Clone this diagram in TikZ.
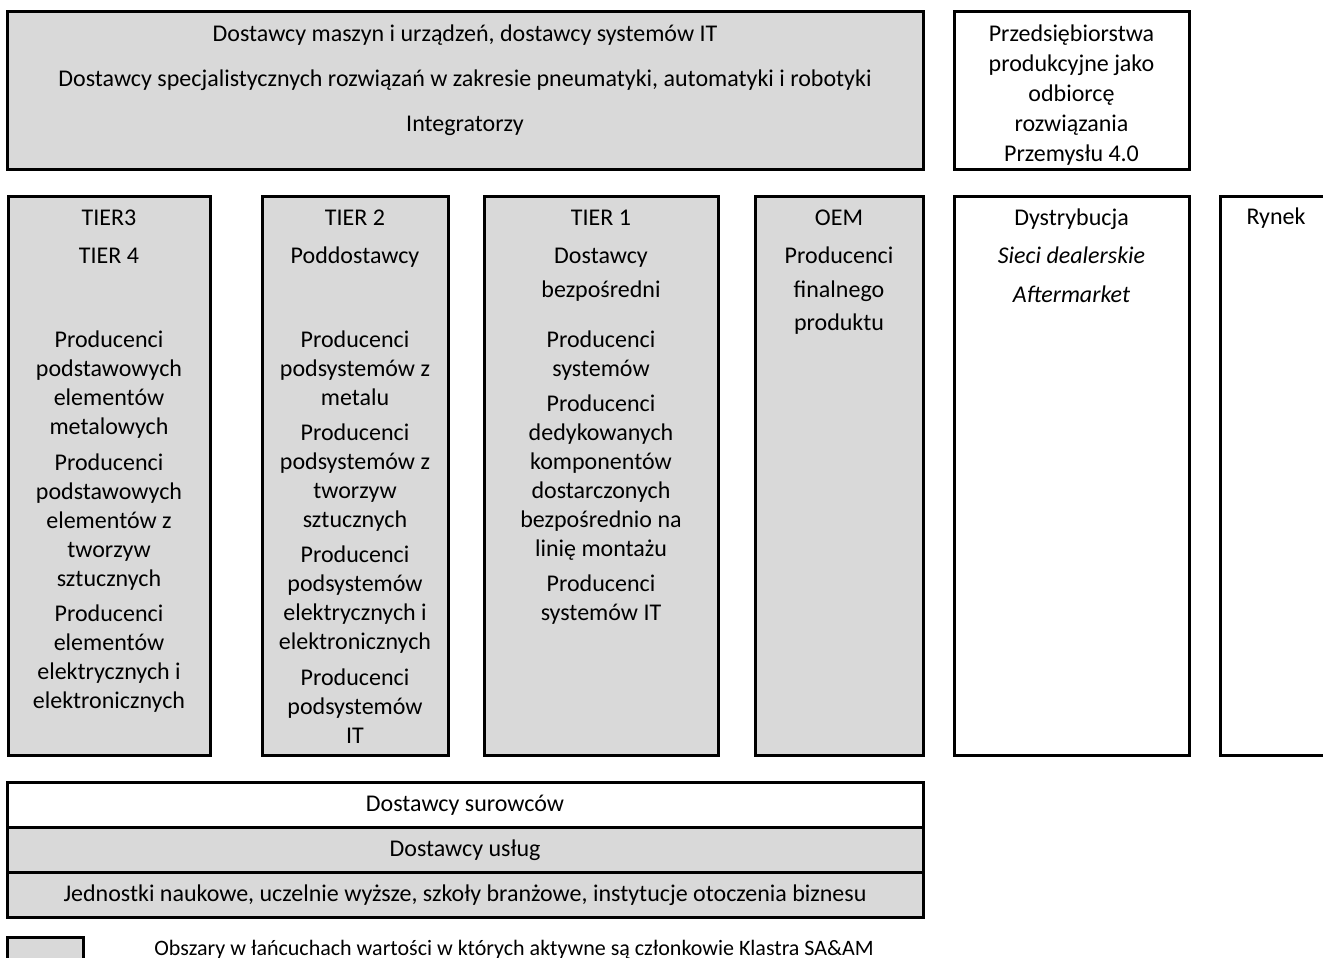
\documentclass[tikz,border=0pt]{standalone}
\usepackage{fontspec}
\setmainfont{Carlito}
\usetikzlibrary{fit}
\definecolor{obszar}{RGB}{217,217,217}

\begin{document}
\begin{tikzpicture}[x=0.5pt,y=-0.5pt,
  box/.style={draw,line width=1.5pt,fill=obszar,inner sep=0pt},
  pusty/.style={box,fill=white},
  opis/.style={align=center,inner sep=0pt,anchor=base,font=\fontsize{12pt}{14.5pt}\selectfont},
  blok/.style={opis,anchor=north}]
\useasboundingbox (0,0) rectangle (1323,958);
\clip (0,0) rectangle (1323,958);
\fill[white] (0,0) rectangle (1323,958);

% ramki
\node[box,fit={(7.5,11) (923,169)}] (gora) {};
\node[pusty,fit={(954,11) (1189,169)}] (odbiorca) {};
\node[box,fit={(8,196) (210,755)}] (tier34) {};
\node[box,fit={(262,196) (448,755)}] (tier2) {};
\node[box,fit={(484,196) (718,755)}] (tier1) {};
\node[box,fit={(755,196) (923,755)}] (oem) {};
\node[pusty,fit={(954,196) (1189,755)}] (dystr) {};
\node[pusty,fit={(1220,196) (1332,755)}] (rynek) {};
\node[pusty,fit={(7.5,782) (923,827)}] (surowce) {};
\node[box,fit={(7.5,827) (923,872)}] (uslugi) {};
\node[box,fit={(7.5,872) (923,917)}] (jednostki) {};
\node[box,fit={(7.5,937) (83,990)}] (legenda) {};

% teksty
\node[blok] (t-gora) at (465,24) {Dostawcy maszyn i urządzeń, dostawcy systemów IT\\[8pt]
  Dostawcy specjalistycznych rozwiązań w zakresie pneumatyki, automatyki i robotyki\\[8pt]
  Integratorzy};
\node[blok] (t-odbiorca) at (1071.5,24) {Przedsiębiorstwa\\[0.5pt] produkcyjne jako\\[0.5pt]
  odbiorcę\\[0.5pt] rozwiązania\\[0.5pt] Przemysłu 4.0};
\node[blok] (t-tier34) at (109,210) {TIER3\\[4.5pt] TIER 4\\[27.5pt]
  Producenci\\ podstawowych\\ elementów\\ metalowych\\[3.5pt]
  Producenci\\ podstawowych\\ elementów z\\ tworzyw\\ sztucznych\\[3pt]
  Producenci\\ elementów\\ elektrycznych i\\ elektronicznych};
\node[blok] (t-tier2) at (355,210) {TIER 2\\[4.5pt] Poddostawcy\\[27.5pt]
  Producenci\\ podsystemów z\\ metalu\\[3pt]
  Producenci\\ podsystemów z\\ tworzyw\\ sztucznych\\[3pt]
  Producenci\\ podsystemów\\ elektrycznych i\\ elektronicznych\\[3.5pt]
  Producenci\\ podsystemów\\ IT};
\node[blok] (t-tier1) at (601,210) {TIER 1\\[4.5pt] Dostawcy\\[2.5pt] bezpośredni\\[10.5pt]
  Producenci\\ systemów\\[3pt]
  Producenci\\ dedykowanych\\ komponentów\\ dostarczonych\\ bezpośrednio na\\ linię montażu\\[3pt]
  Producenci\\ systemów IT};
\node[blok] (t-oem) at (839,210) {OEM\\[4.5pt] Producenci\\[2.5pt] finalnego\\[2pt] produktu};
\node[blok] (t-dystr) at (1071.5,208) {Dystrybucja\\[4.5pt] \textit{Sieci dealerskie}\\[5pt] \textit{Aftermarket}};
\node[opis] (t-rynek) at (1276,224) {Rynek};
\node[opis] (t-surowce) at (465,811) {Dostawcy surowców};
\node[opis] (t-uslugi) at (465,856) {Dostawcy usług};
\node[opis] (t-jednostki) at (465,901) {Jednostki naukowe, uczelnie wyższe, szkoły branżowe, instytucje otoczenia biznesu};
\node[opis,anchor=base west,font=\fontsize{11pt}{13pt}\selectfont] (t-legenda) at (154,955) {Obszary w łańcuchach wartości w których aktywne są członkowie Klastra SA\&AM};
\end{tikzpicture}
\end{document}
